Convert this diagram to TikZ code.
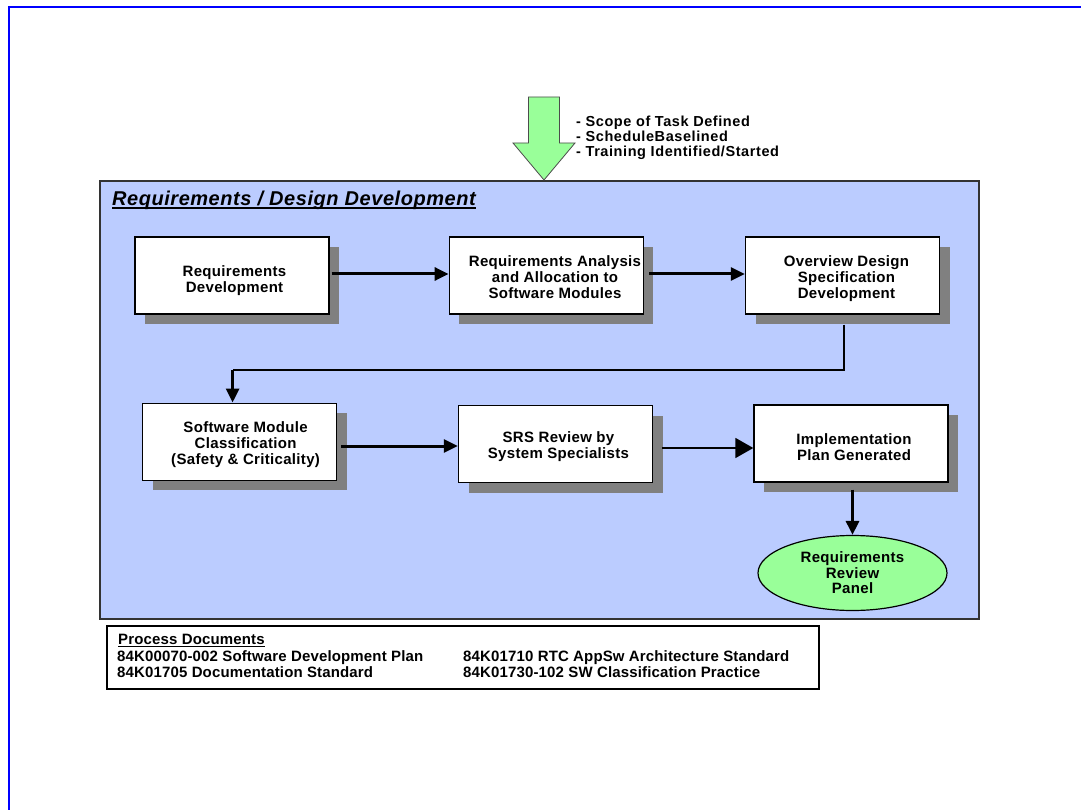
\documentclass[tikz,border=0pt]{standalone}
\usepackage{fontspec}
\setmainfont{Liberation Sans}
\newfontfamily\boxfont{Liberation Sans}[LetterSpace=2.2]
\newfontfamily\inputfont{Liberation Sans}[LetterSpace=4]
\newfontfamily\titlefont{Liberation Sans}[LetterSpace=2.7]
\newfontfamily\docfont{Liberation Sans}[LetterSpace=1]
\usetikzlibrary{arrows.meta,shadows,calc,shapes.geometric}
\definecolor{panelblue}{RGB}{187,204,255}
\definecolor{lgreen}{RGB}{153,255,153}
\definecolor{shadowgray}{RGB}{128,128,128}
\definecolor{frameblue}{RGB}{0,0,255}
\begin{document}
\begin{tikzpicture}[x=1pt,y=-1pt,
  stepbox/.style={draw=black, line width=1.4pt, fill=white, minimum width=194pt, minimum height=77pt, inner sep=0pt,
    drop shadow={shadow xshift=10pt, shadow yshift=-10pt, fill=shadowgray, opacity=1}},
  boxtxt/.style={font=\boxfont\bfseries\fontsize{15}{16}\selectfont, align=center, inner sep=0pt},
  doctxt/.style={font=\docfont\bfseries\fontsize{15}{16}\selectfont, anchor=base west, inner sep=0pt},
  arr/.style={line width=3pt, -{Triangle[length=14pt,width=13pt]}},
  thinarr/.style={line width=1.8pt, -{Triangle[length=18pt,width=20pt]}},
  conn/.style={line width=2.2pt}
]
\useasboundingbox (0,0) rectangle (1081,810);
% outer blue frame (partly visible)
\draw[frameblue, line width=2.2pt] (9,810) -- (9,6.8) -- (1081,6.8);
% panel
\draw[fill=panelblue, draw=black!80, line width=1.2pt] (100,181) rectangle (979,619);
% green input arrow
\draw[fill=lgreen, draw=black!70, line width=0.8pt]
  (528.5,97) -- (559.5,97) -- (559.5,143) -- (575,143) -- (544,180) -- (513,143) -- (528.5,143) -- cycle;
\node[font=\inputfont\bfseries\fontsize{14.5}{15}\selectfont, align=left, anchor=west, inner sep=0pt] (inputs) at (576,137.4)
  {- Scope of Task Defined\\- ScheduleBaselined\\- Training Identified/Started};
% title
\node[font=\titlefont\bfseries\itshape\fontsize{20}{22}\selectfont, anchor=base west, inner sep=0pt] (title) at (112,205.7)
  {Requirements / Design Development};
\draw[line width=1.8pt] ($(title.base west)+(0,2.6)$) -- ($(title.base east)+(0,2.6)$);
% boxes
\node[stepbox] (b1) at (232,275.5) {};
\node[stepbox] (b2) at (546.3,275.5) {};
\node[stepbox] (b3) at (842.5,275.5) {};
\node[stepbox] (b4) at (239.6,441.7) {};
\node[stepbox] (b5) at (555.5,444) {};
\node[stepbox] (b6) at (851,443.5) {};
\node[boxtxt] (t1) at ($(b1.center)+(2.5,4.75)$) {Requirements\\Development};
\node[boxtxt] (t2) at ($(b2.center)+(8.7,2)$) {Requirements Analysis\\and Allocation to\\Software Modules};
\node[boxtxt] (t3) at ($(b3.center)+(4,3.3)$) {Overview Design\\Specification\\Development};
\node[boxtxt] (t4) at ($(b4.center)+(6,2.8)$) {Software Module\\Classification\\(Safety \& Criticality)};
\node[boxtxt] (t5) at ($(b5.center)+(3,3)$) {SRS Review by\\System Specialists};
\node[boxtxt] (t6) at ($(b6.center)+(3,4)$) {Implementation\\Plan Generated};
% review panel ellipse
\node[ellipse, draw=black, line width=1.2pt, fill=lgreen, minimum width=189pt, minimum height=75pt, inner sep=0pt,
  font=\boxfont\bfseries\fontsize{15}{15.5}\selectfont, align=center] (panel) at (852.5,573) {Requirements\\Review\\Panel};
% connectors
\draw[arr] ($(b1.east)+(2,-1.5)$) -- ($(b2.west)+(0,-1.5)$);
\draw[arr] ($(b2.east)+(5,-1.5)$) -- ($(b3.west)+(0,-1.5)$);
\coordinate (turn) at (232.6,370);
\draw[conn] ($(b3.south)+(1.5,10)$) |- (turn);
\draw[arr] (turn) -- (turn |- b4.north);
\draw[arr] ($(b4.east)+(4,4.3)$) -- ($(b5.west)+(0,2)$);
\draw[thinarr] ($(b5.east)+(9,4)$) -- ($(b6.west)+(0,4.5)$);
\draw[arr] ($(b6.south -| panel.north)+(0,7)$) -- (panel.north);
% process documents
\node[draw=black, line width=1.3pt, fill=white, minimum width=712pt, minimum height=63pt, inner sep=0pt] (docs) at (463,657.5) {};
\node[doctxt] (dh) at (118,644) {Process Documents};
\draw[line width=1.3pt] ($(dh.base west)+(0,2.8)$) -- ($(dh.base east)+(0,2.8)$);
\node[doctxt] (d1) at (117,661) {84K00070-002 Software Development Plan};
\node[doctxt] (d2) at (117,677) {84K01705 Documentation Standard};
\node[doctxt] (d3) at (463,661) {84K01710 RTC AppSw Architecture Standard};
\node[doctxt] (d4) at (463,677) {84K01730-102 SW Classification Practice};
\end{tikzpicture}
\end{document}
